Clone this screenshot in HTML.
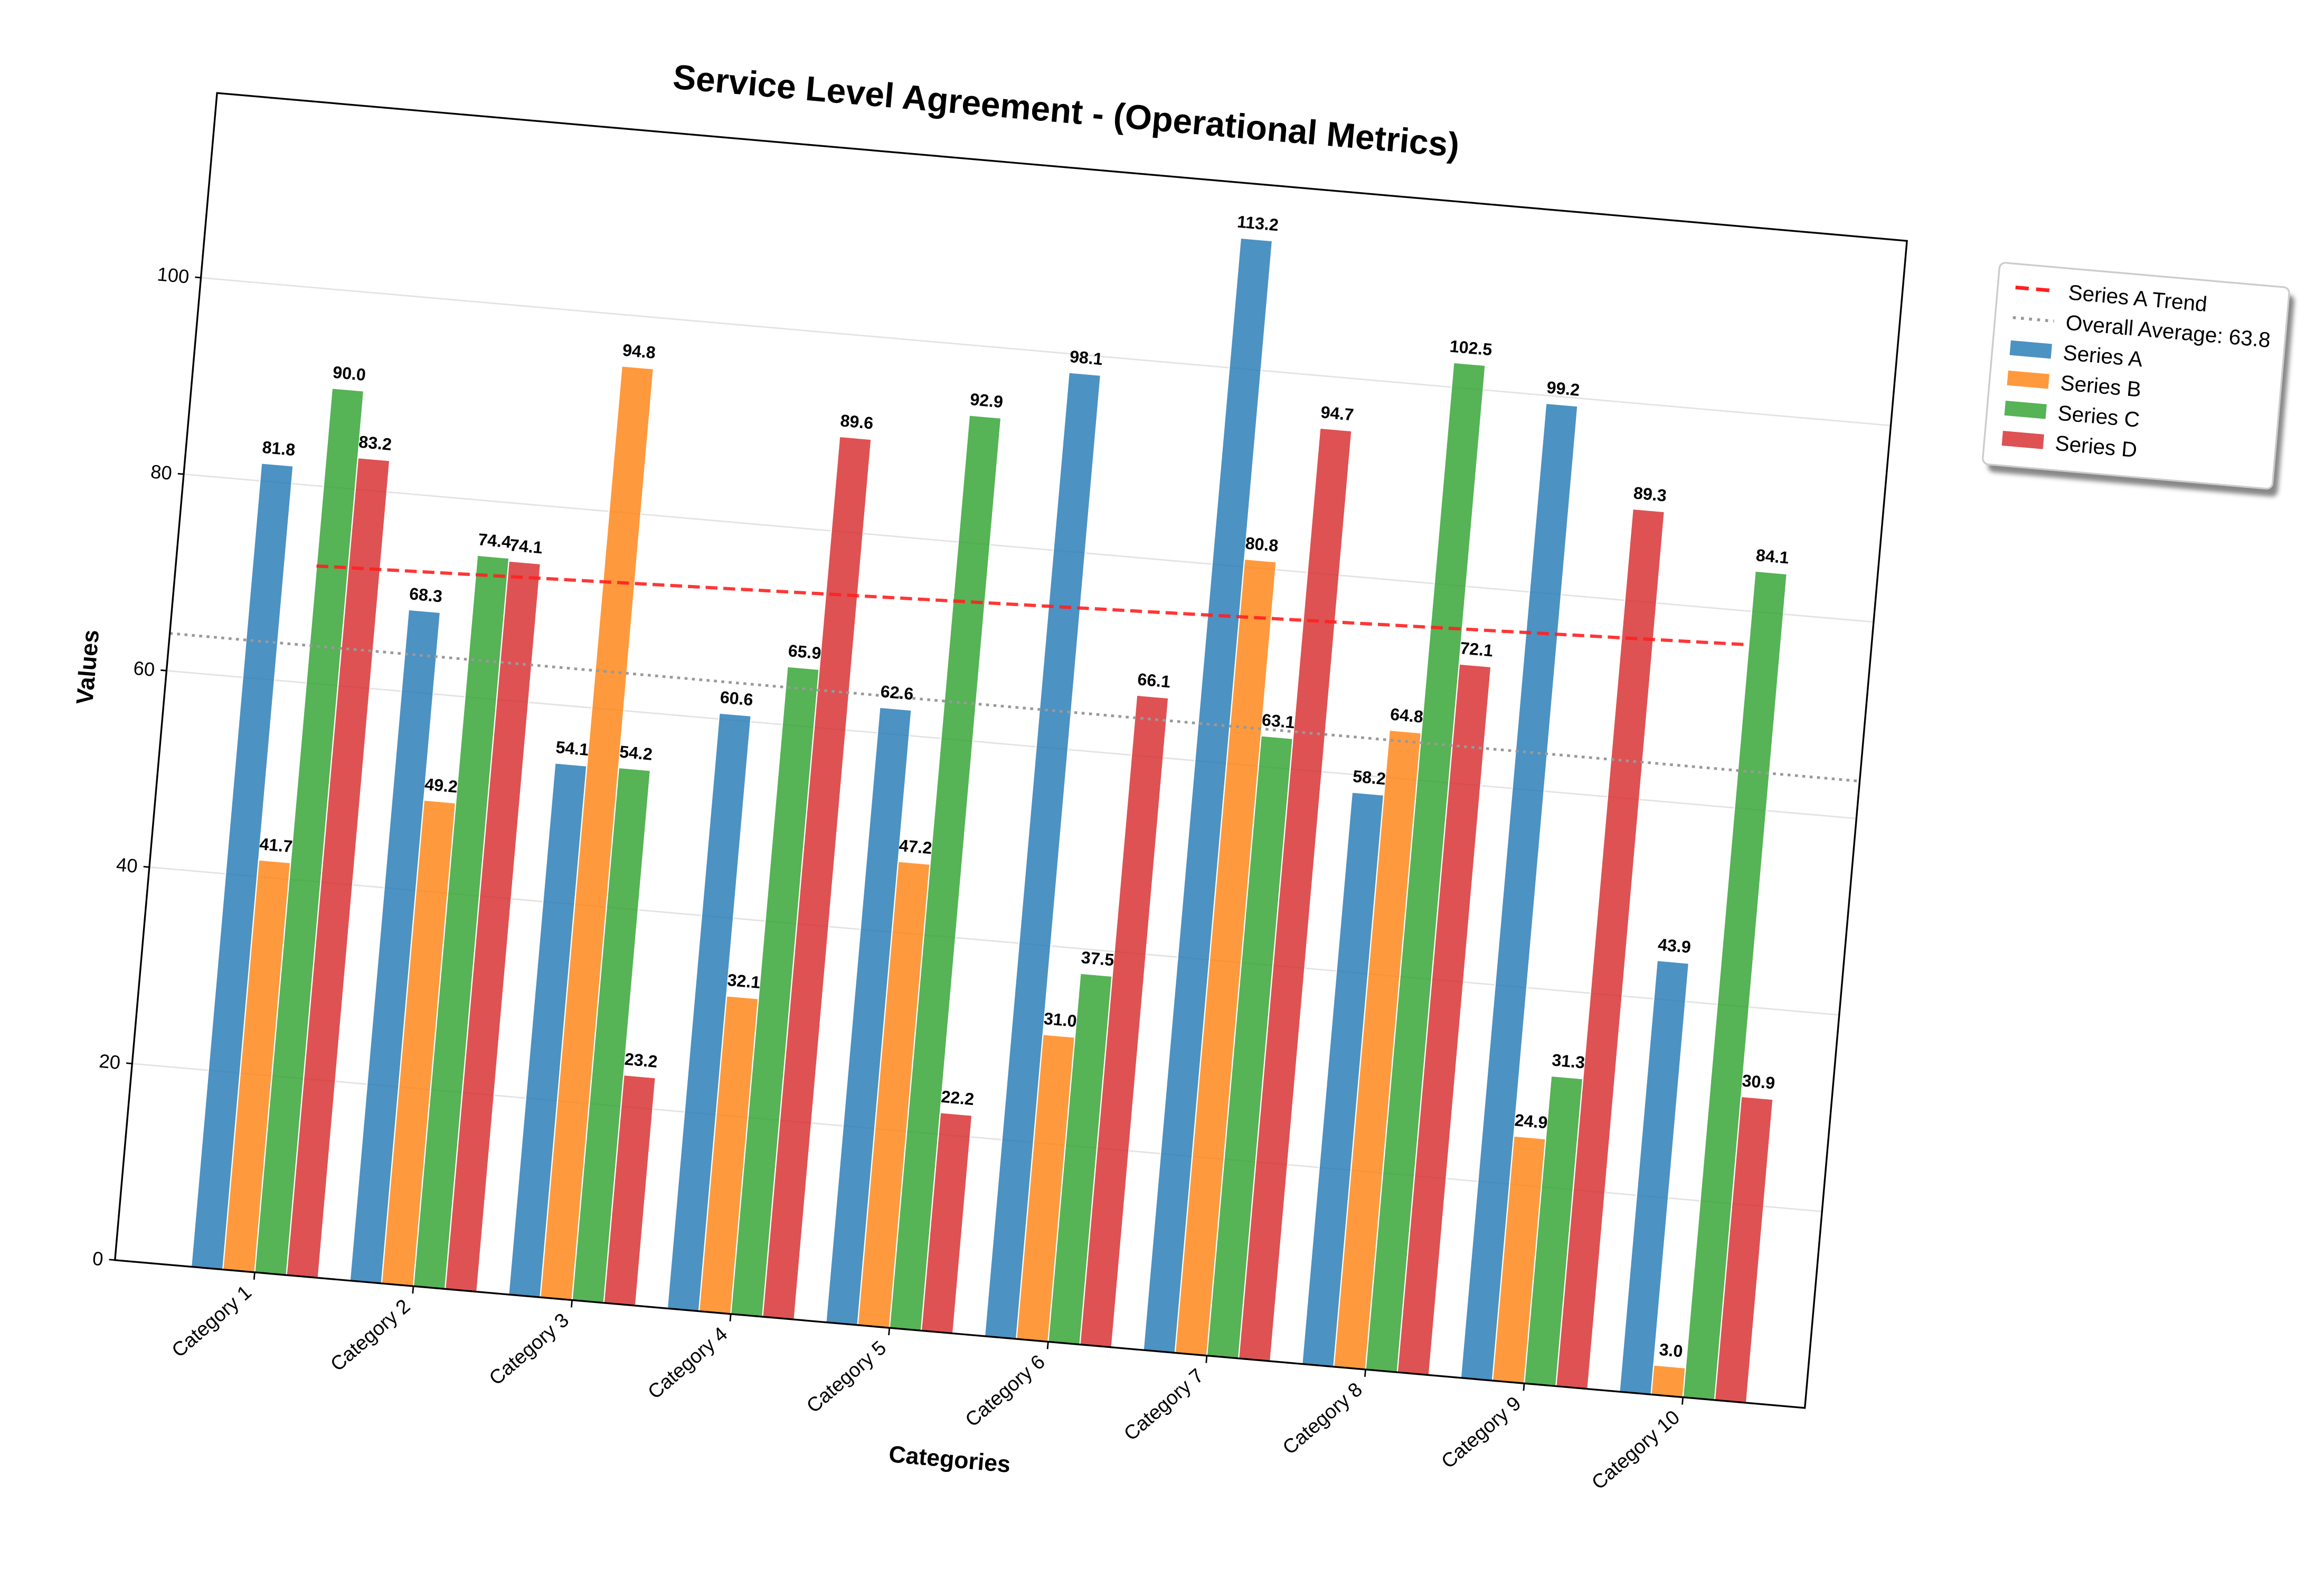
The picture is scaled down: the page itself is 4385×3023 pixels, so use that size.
<!DOCTYPE html>
<html><head><meta charset="utf-8"><style>
html,body{margin:0;padding:0;background:#fff;}
svg{display:block;font-family:"Liberation Sans",Arial,sans-serif;}
</style></head><body>
<svg id="chart" width="4385" height="3023" viewBox="0 0 1568 1081" xmlns="http://www.w3.org/2000/svg">
<defs>
<filter id="sh" x="-10%" y="-10%" width="130%" height="130%"><feGaussianBlur stdDeviation="1.5"/></filter>
</defs>
<g id="root" transform="translate(147,63) rotate(5)">
  <g id="grid"></g>
  <g id="bars"></g>
  <g id="lines"></g>
  <g id="labels"></g>
  <rect x="0" y="0" width="1149" height="793.5" fill="none" stroke="#000" stroke-width="1.2"/>
  <g id="yticks"></g>
  <g id="xticks"></g>
  <text x="574" y="-30" text-anchor="middle" font-size="23.5" font-weight="bold">Service Level Agreement - (Operational Metrics)</text>
  <text transform="translate(-48,395) rotate(-90)" text-anchor="middle" font-size="16" font-weight="bold">Values</text>
  <text x="575" y="884" text-anchor="middle" font-size="16" font-weight="bold">Categories</text>
  <g transform="translate(1213,9)">
    <rect x="4" y="5" width="197" height="137" rx="4" fill="#888" filter="url(#sh)"/>
    <rect x="0" y="0" width="197" height="137" rx="4" fill="#fff" stroke="#ccc" stroke-width="1.2"/>
    <line x1="12" y1="16" x2="40" y2="16" stroke="#ff2020" stroke-width="2.5" stroke-dasharray="9,5"/>
    <text x="48" y="21" font-size="14.5">Series A Trend</text>
    <line x1="12" y1="36.5" x2="40" y2="36.5" stroke="#999" stroke-width="2" stroke-dasharray="2,3.5"/>
    <text x="48" y="41.5" font-size="14.5">Overall Average: 63.8</text>
    <rect x="12" y="52" width="28" height="10" fill="#1f77b4" fill-opacity="0.8"/>
    <text x="48" y="62" font-size="14.5">Series A</text>
    <rect x="12" y="72.5" width="28" height="10" fill="#ff7f0e" fill-opacity="0.8"/>
    <text x="48" y="82.5" font-size="14.5">Series B</text>
    <rect x="12" y="93" width="28" height="10" fill="#2ca02c" fill-opacity="0.8"/>
    <text x="48" y="103" font-size="14.5">Series C</text>
    <rect x="12" y="113.5" width="28" height="10" fill="#d62728" fill-opacity="0.8"/>
    <text x="48" y="123.5" font-size="14.5">Series D</text>
  </g>
</g>
</svg>
<script>
const categories = ["Category 1","Category 2","Category 3","Category 4","Category 5","Category 6","Category 7","Category 8","Category 9","Category 10"];
const seriesA = [81.8,68.3,54.1,60.6,62.6,98.1,113.2,58.2,99.2,43.9];
const seriesB = [41.7,49.2,94.8,32.1,47.2,31.0,80.8,64.8,24.9,3.0];
const seriesC = [90.0,74.4,54.2,65.9,92.9,37.5,63.1,102.5,31.3,84.1];
const seriesD = [83.2,74.1,23.2,89.6,22.2,66.1,94.7,72.1,89.3,30.9];
const trendStart = 71.9;
const trendEnd = 76.6;
const overallAverage = 63.8;
const yTicks = [0,20,40,60,80,100];

const NS = "http://www.w3.org/2000/svg";
const H = 793.5, W = 1149, YMAX = 118.8;
function yScale(v){ return H - v / YMAX * H; }
function xScale(i){ return 95 + i * 107.9; }
const barW = 21.6;
function mk(tag, attrs, parent){
  const e = document.createElementNS(NS, tag);
  for (const k in attrs) e.setAttribute(k, attrs[k]);
  parent.appendChild(e); return e;
}
const grid = document.getElementById('grid');
const bars = document.getElementById('bars');
const lines = document.getElementById('lines');
const labels = document.getElementById('labels');
const yt = document.getElementById('yticks');
const xt = document.getElementById('xticks');

yTicks.forEach(t => {
  const y = yScale(t);
  const g = mk('line', {x1:0, x2:W, y1:y, y2:y, stroke:'#e3e3e3', 'stroke-width':1}, grid);
  
  
  const tk = mk('line', {x1:-4, x2:0, y1:y, y2:y, stroke:'#000', 'stroke-width':1}, yt);
  
  
  const tx = mk('text', {x:-8, y:y+4.5, 'text-anchor':'end', 'font-size':13}, yt);
  tx.textContent = t;
  
  
});

const series = [seriesA, seriesB, seriesC, seriesD];
const colors = ['#1f77b4','#ff7f0e','#2ca02c','#d62728'];
const names = ['a','b','c','d'];
series.forEach((vals, s) => {
  vals.forEach((v, i) => {
    const x = xScale(i) + (s - 2) * barW;
    const r = mk('rect', {x:x, y:yScale(v), width:barW, height:H - yScale(v), fill:colors[s], 'fill-opacity':0.8, stroke:'#fff', 'stroke-width':0.8}, bars);
    
    
    const t = mk('text', {x:x + barW/2, y:yScale(v) - 7, 'text-anchor':'middle', 'font-size':11.5, 'font-weight':'bold'}, labels);
    t.textContent = v.toFixed(1);
    
    
  });
});

const trend = mk('line', {x1:xScale(0), x2:xScale(categories.length-1), y1:yScale(trendStart), y2:yScale(trendEnd), stroke:'#ff2020', 'stroke-width':2.2, 'stroke-dasharray':'8,4', 'stroke-opacity':0.9}, lines);


const avg = mk('line', {x1:0, x2:W, y1:yScale(overallAverage), y2:yScale(overallAverage), stroke:'#999', 'stroke-width':1.8, 'stroke-dasharray':'2,3'}, lines);



categories.forEach((c, i) => {
  const x = xScale(i);
  const tk = mk('line', {x1:x, x2:x, y1:H, y2:H+5, stroke:'#000', 'stroke-width':1}, xt);
  
  
  const tx = mk('text', {transform:'translate(' + (x) + ',' + (H+15) + ') rotate(-46)', 'text-anchor':'end', 'font-size':13.5}, xt);
  tx.textContent = c;
  
  
});
</script>
</body></html>
